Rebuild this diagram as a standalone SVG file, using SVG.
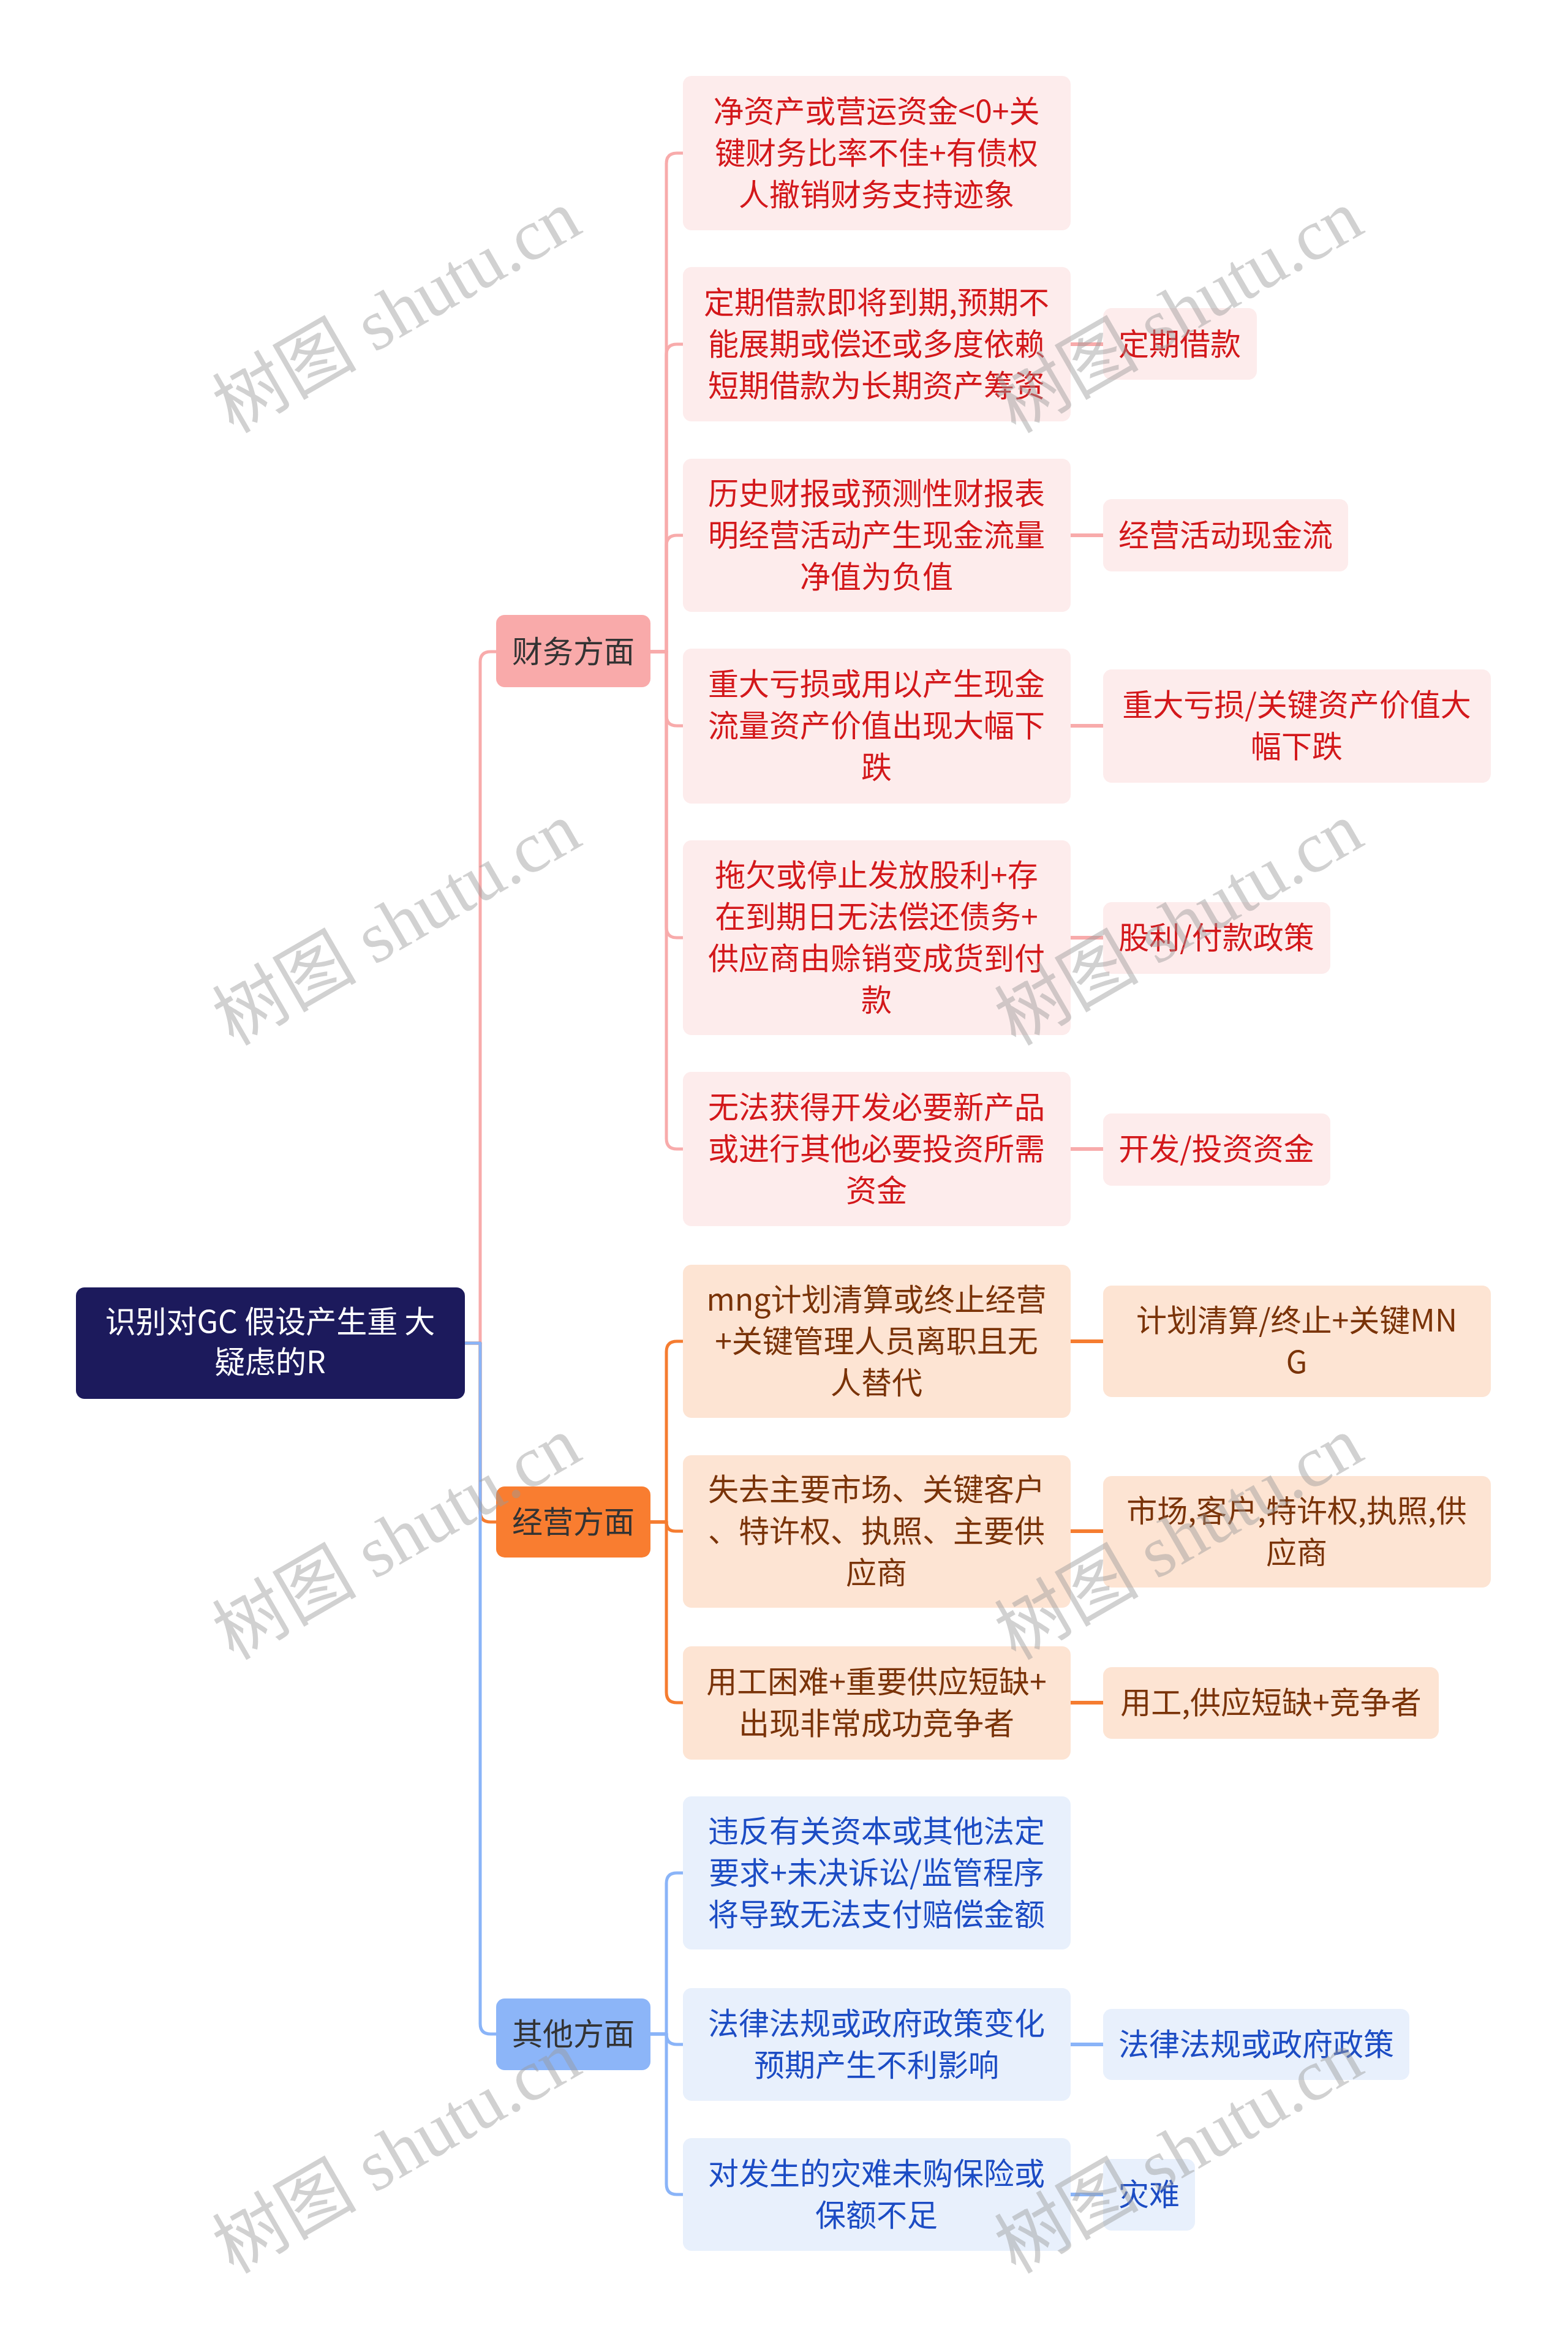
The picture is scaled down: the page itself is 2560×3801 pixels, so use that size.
<svg xmlns="http://www.w3.org/2000/svg" width="2560" height="3801" viewBox="0 0 2560 3801">
<style>
text{font-family:"Noto Sans CJK SC","Noto Sans",sans-serif;font-size:50px;text-anchor:middle}
.root rect{fill:#1c1a5c}
.root text{fill:#ffffff}
.l1 text{fill:#333333}
.f1 rect{fill:#f9aaaa}
.o1 rect{fill:#f97d30}
.t1 rect{fill:#8cb5f8}
.f2 rect{fill:#fdecec}
.f2 text{fill:#d3181b}
.o2 rect{fill:#fde4d3}
.o2 text{fill:#7a3308}
.t2 rect{fill:#e8f0fc}
.t2 text{fill:#1c4cc4}
#connectors path{fill:none;stroke-width:5;stroke-linecap:round;stroke-linejoin:round}
.cf{stroke:#f8abab}
.co{stroke:#f57c30}
.ct{stroke:#8ab4f8}
#connectors path.l3{stroke-width:6;stroke-linecap:butt}
.wm{font-family:"Liberation Serif","Noto Sans CJK SC",serif;font-size:118px;fill:#9a9a9a;opacity:0.45;dominant-baseline:central}
</style>
<rect width="2560" height="3801" fill="#ffffff"/>
<g id="connectors">
<path class="cf" d="M784,2193 V1081 Q784,1064 801,1064 H811"/>
<path class="co" d="M759,2193 H784 V2468 Q784,2485 801,2485 H811"/>
<path class="ct" d="M759,2193 H784 V3304 Q784,3321 801,3321 H811"/>
<path class="cf" d="M1062,1064 H1088 V267 Q1088,250 1105,250 H1116"/>
<path class="cf" d="M1062,1064 H1088 V579 Q1088,562 1105,562 H1116"/>
<path class="cf" d="M1062,1064 H1088 V891 Q1088,874 1105,874 H1116"/>
<path class="cf" d="M1062,1064 H1088 V1168 Q1088,1185 1105,1185 H1116"/>
<path class="cf" d="M1062,1064 H1088 V1514 Q1088,1531 1105,1531 H1116"/>
<path class="cf" d="M1062,1064 H1088 V1859 Q1088,1876 1105,1876 H1116"/>
<path class="co" d="M1062,2485 H1088 V2207 Q1088,2190 1105,2190 H1116"/>
<path class="co" d="M1062,2485 H1088 Q1088,2500 1103,2500 H1116"/>
<path class="co" d="M1062,2485 H1088 V2763 Q1088,2780 1105,2780 H1116"/>
<path class="ct" d="M1062,3321 H1088 V3075 Q1088,3058 1105,3058 H1116"/>
<path class="ct" d="M1062,3321 H1088 Q1088,3338 1105,3338 H1116"/>
<path class="ct" d="M1062,3321 H1088 V3566 Q1088,3583 1105,3583 H1116"/>
<path class="cf l3" d="M1748,562 H1802"/>
<path class="cf l3" d="M1748,874 H1802"/>
<path class="cf l3" d="M1748,1185 H1802"/>
<path class="cf l3" d="M1748,1531 H1802"/>
<path class="cf l3" d="M1748,1876 H1802"/>
<path class="co l3" d="M1748,2190 H1802"/>
<path class="co l3" d="M1748,2500 H1802"/>
<path class="co l3" d="M1748,2780 H1802"/>
<path class="ct l3" d="M1748,3338 H1802"/>
<path class="ct l3" d="M1748,3583 H1802"/>
</g>
<g id="root" class="root"><rect x="124" y="2102" width="635" height="182" rx="14"/><text x="441" y="2176">识别对GC 假设产生重 大</text><text x="441" y="2242">疑虑的R</text></g>
<g id="n-finance" class="l1 f1"><rect x="810" y="1004" width="252" height="118" rx="14"/><text x="936" y="1082">财务方面</text></g>
<g id="n-ops" class="l1 o1"><rect x="810" y="2427" width="252" height="116" rx="14"/><text x="936" y="2503">经营方面</text></g>
<g id="n-other" class="l1 t1"><rect x="810" y="3263" width="252" height="117" rx="14"/><text x="936" y="3339">其他方面</text></g>

<g id="f-1" class="f2"><rect x="1115" y="124" width="633" height="252" rx="14"/><text x="1431" y="200">净资产或营运资金&lt;0+关</text><text x="1431" y="268">键财务比率不佳+有债权</text><text x="1431" y="336">人撤销财务支持迹象</text></g>
<g id="f-2" class="f2"><rect x="1115" y="436" width="633" height="252" rx="14"/><text x="1431" y="512">定期借款即将到期,预期不</text><text x="1431" y="580">能展期或偿还或多度依赖</text><text x="1431" y="648">短期借款为长期资产筹资</text></g>
<g id="f-3" class="f2"><rect x="1115" y="749" width="633" height="250" rx="14"/><text x="1431" y="824">历史财报或预测性财报表</text><text x="1431" y="892">明经营活动产生现金流量</text><text x="1431" y="960">净值为负值</text></g>
<g id="f-4" class="f2"><rect x="1115" y="1059" width="633" height="253" rx="14"/><text x="1431" y="1135">重大亏损或用以产生现金</text><text x="1431" y="1203">流量资产价值出现大幅下</text><text x="1431" y="1271">跌</text></g>
<g id="f-5" class="f2"><rect x="1115" y="1372" width="633" height="318" rx="14"/><text x="1431" y="1447">拖欠或停止发放股利+存</text><text x="1431" y="1515">在到期日无法偿还债务+</text><text x="1431" y="1583">供应商由赊销变成货到付</text><text x="1431" y="1651">款</text></g>
<g id="f-6" class="f2"><rect x="1115" y="1750" width="633" height="252" rx="14"/><text x="1431" y="1826">无法获得开发必要新产品</text><text x="1431" y="1894">或进行其他必要投资所需</text><text x="1431" y="1962">资金</text></g>

<g id="f-2a" class="f2"><rect x="1801" y="503" width="251" height="117" rx="14"/><text x="1926" y="580">定期借款</text></g>
<g id="f-3a" class="f2"><rect x="1801" y="815" width="400" height="118" rx="14"/><text x="2001" y="892">经营活动现金流</text></g>
<g id="f-4a" class="f2"><rect x="1801" y="1093" width="633" height="185" rx="14"/><text x="2117" y="1169">重大亏损/关键资产价值大</text><text x="2117" y="1237">幅下跌</text></g>
<g id="f-5a" class="f2"><rect x="1801" y="1473" width="371" height="117" rx="14"/><text x="1986" y="1549">股利/付款政策</text></g>
<g id="f-6a" class="f2"><rect x="1801" y="1818" width="371" height="118" rx="14"/><text x="1986" y="1894">开发/投资资金</text></g>

<g id="o-1" class="o2"><rect x="1115" y="2065" width="633" height="250" rx="14"/><text x="1431" y="2140">mng计划清算或终止经营</text><text x="1431" y="2208">+关键管理人员离职且无</text><text x="1431" y="2276">人替代</text></g>
<g id="o-2" class="o2"><rect x="1115" y="2376" width="633" height="249" rx="14"/><text x="1431" y="2450">失去主要市场、关键客户</text><text x="1431" y="2518">、特许权、执照、主要供</text><text x="1431" y="2586">应商</text></g>
<g id="o-3" class="o2"><rect x="1115" y="2688" width="633" height="185" rx="14"/><text x="1431" y="2764">用工困难+重要供应短缺+</text><text x="1431" y="2832">出现非常成功竞争者</text></g>
<g id="o-1a" class="o2"><rect x="1801" y="2099" width="633" height="182" rx="14"/><text x="2117" y="2174">计划清算/终止+关键MN</text><text x="2117" y="2242">G</text></g>
<g id="o-2a" class="o2"><rect x="1801" y="2410" width="633" height="182" rx="14"/><text x="2117" y="2485">市场,客户,特许权,执照,供</text><text x="2117" y="2553">应商</text></g>
<g id="o-3a" class="o2"><rect x="1801" y="2722" width="548" height="117" rx="14"/><text x="2075" y="2798">用工,供应短缺+竞争者</text></g>

<g id="t-1" class="t2"><rect x="1115" y="2933" width="633" height="250" rx="14"/><text x="1431" y="3008">违反有关资本或其他法定</text><text x="1431" y="3076">要求+未决诉讼/监管程序</text><text x="1431" y="3144">将导致无法支付赔偿金额</text></g>
<g id="t-2" class="t2"><rect x="1115" y="3246" width="633" height="184" rx="14"/><text x="1431" y="3322">法律法规或政府政策变化</text><text x="1431" y="3390">预期产生不利影响</text></g>
<g id="t-3" class="t2"><rect x="1115" y="3491" width="633" height="184" rx="14"/><text x="1431" y="3567">对发生的灾难未购保险或</text><text x="1431" y="3635">保额不足</text></g>
<g id="t-2a" class="t2"><rect x="1801" y="3280" width="500" height="116" rx="14"/><text x="2051" y="3356">法律法规或政府政策</text></g>
<g id="t-3a" class="t2"><rect x="1801" y="3525" width="150" height="117" rx="14"/><text x="1876" y="3601">灾难</text></g>

<g id="watermark">
<text class="wm" x="648" y="509" transform="rotate(-30 648 509)">树图 shutu.cn</text>
<text class="wm" x="1925" y="509" transform="rotate(-30 1925 509)">树图 shutu.cn</text>
<text class="wm" x="648" y="1509" transform="rotate(-30 648 1509)">树图 shutu.cn</text>
<text class="wm" x="1925" y="1509" transform="rotate(-30 1925 1509)">树图 shutu.cn</text>
<text class="wm" x="648" y="2512" transform="rotate(-30 648 2512)">树图 shutu.cn</text>
<text class="wm" x="1925" y="2512" transform="rotate(-30 1925 2512)">树图 shutu.cn</text>
<text class="wm" x="648" y="3514" transform="rotate(-30 648 3514)">树图 shutu.cn</text>
<text class="wm" x="1925" y="3514" transform="rotate(-30 1925 3514)">树图 shutu.cn</text>
</g>
</svg>
